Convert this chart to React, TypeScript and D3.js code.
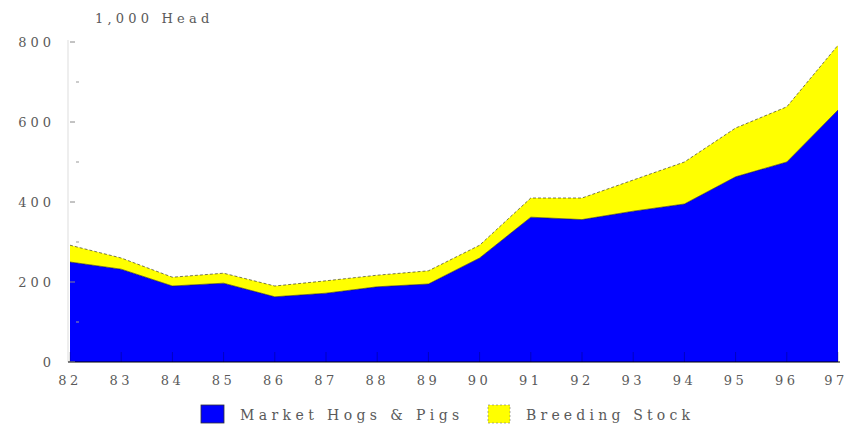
import React from "react";
import * as d3 from "d3";

const years = ["82","83","84","85","86","87","88","89","90","91","92","93","94","95","96","97"];
const marketHogs = [250,232,190,197,163,172,188,195,260,362,356,377,395,463,500,630];
const totalInventory = [292,260,212,222,190,203,217,228,292,410,410,455,500,585,638,792];
const breedingStock = totalInventory.map((t, i) => t - marketHogs[i]);
const yTickValues = [0,200,400,600,800];
const minorTicks = [100,300,500,700];
const seriesNames = ["Market Hogs & Pigs","Breeding Stock"];
const colors = ["#0000ff","#ffff00"];

export default function App() {
  const W = 848, H = 432;
  const x = d3.scalePoint<string>().domain(years).range([70, 838]);
  const y = d3.scaleLinear().domain([0, 800]).range([362, 42]);
  const rows = years.map((yr, i) => ({ yr, m: marketHogs[i], b: breedingStock[i] }));
  const stack = d3.stack<any>().keys(["m", "b"])(rows);
  const area = d3.area<any>()
    .x((d: any) => x(d.data.yr)!)
    .y0((d: any) => y(d[0]))
    .y1((d: any) => y(d[1]));
  const line = d3.line<any>().x((d: any) => x(d.data.yr)!).y((d: any) => y(d[1]));
  const font = "'DejaVu Serif', serif";
  const txt = "#5a5a5a";
  return (
    <svg width={W} height={H} style={{ position: "absolute", left: 0, top: 0, background: "#fff" }}>
      <text x={95} y={23} fontFamily={font} fontSize={13} letterSpacing={4.2} fill={txt}>1,000 Head</text>
      <line x1={68} x2={68} y1={40} y2={362} stroke="#ddd" />
      {stack.map((s, i) => (
        <path key={i} d={area(s as any)!} fill={colors[i]} />
      ))}
      {stack.map((s, i) => (
        <path key={"l" + i} d={line(s as any)!} fill="none" stroke="#222" strokeWidth={1} strokeOpacity={0.6} strokeDasharray={i === 1 ? "3,2" : undefined} />
      ))}
      {years.map((yr, i) => (
        <g key={yr}>
          <line x1={x(yr)} x2={x(yr)} y1={352} y2={362} stroke="#000" strokeOpacity={0.25} />
          <text x={i === years.length - 1 ? x(yr)! - 2 : x(yr)!} y={385} textAnchor="middle" fontFamily={font} fontSize={13} letterSpacing={3.5} fill={txt}>{yr}</text>
        </g>
      ))}
      <line x1={68} x2={840} y1={362} y2={362} stroke="#000" strokeWidth={1.2} />
      {yTickValues.map((v) => (
        <g key={v}>
          <line x1={70} x2={75} y1={y(v)} y2={y(v)} stroke="#888" />
          <text x={55} y={y(v) + 5} textAnchor="end" fontFamily={font} fontSize={13} letterSpacing={4} fill={txt}>{v}</text>
        </g>
      ))}
      {minorTicks.map((v) => (
        <line key={v} x1={76} x2={79} y1={y(v)} y2={y(v)} stroke="#999" />
      ))}
      <g>
        <rect x={201} y={405} width={23} height={18} fill={colors[0]} stroke="#333" strokeWidth={0.8} />
        <text x={240} y={420} fontFamily={font} fontSize={14} letterSpacing={4.4} fill={txt}>{seriesNames[0]}</text>
        <rect x={488} y={405} width={22} height={18} fill={colors[1]} stroke="#777" strokeWidth={0.6} strokeDasharray="2,2" />
        <text x={526} y={420} fontFamily={font} fontSize={14} letterSpacing={4.2} fill={txt}>{seriesNames[1]}</text>
      </g>
    </svg>
  );
}
